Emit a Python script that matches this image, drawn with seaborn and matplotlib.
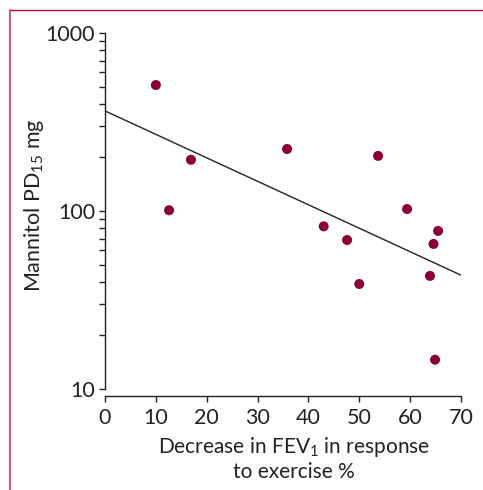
import matplotlib
matplotlib.use("Agg")
import matplotlib.pyplot as plt
import matplotlib.ticker as mticker
from matplotlib.lines import Line2D
import seaborn as sns
import pandas as pd
import numpy as np

# Data
fev1_decrease = [10.0, 12.6, 16.9, 35.8, 53.7, 43.0, 47.6, 50.0, 59.4, 65.5, 64.6, 63.9, 64.9]
mannitol_pd15 = [510, 101, 194, 223, 204, 82, 68.7, 38.9, 102.6, 77.3, 65.3, 43.2, 14.6]
fit_x = [0, 70]
fit_y = [365, 43.6]
x_ticks = [0, 10, 20, 30, 40, 50, 60, 70]
y_ticks = [10, 100, 1000]

sns.set_style("ticks")
plt.rcParams["font.family"] = ["Lato", "DejaVu Sans"]
plt.rcParams["mathtext.fontset"] = "custom"
plt.rcParams["mathtext.rm"] = "Lato"
plt.rcParams["mathtext.it"] = "Lato"

text_color = "#222222"
point_color = "#8a0036"

fig = plt.figure(figsize=(4.83, 4.90), dpi=100)
ax = fig.add_axes([105/483, 1 - 389/490, (461-105)/483, (389-33)/490])

df = pd.DataFrame({"x": fev1_decrease, "y": mannitol_pd15})
fit_df = pd.DataFrame({"x": fit_x, "y": fit_y})

sns.lineplot(data=fit_df, x="x", y="y", ax=ax, color="#222222", linewidth=1.0)
sns.scatterplot(data=df, x="x", y="y", ax=ax, color=point_color, s=52,
                edgecolor="none", zorder=3)

ax.set_yscale("log")
ax.set_xlim(0, 70)
ax.set_ylim(10, 1000)
ax.set_xticks(x_ticks)
ax.set_xticklabels([str(v) for v in x_ticks])
ax.yaxis.set_major_locator(mticker.FixedLocator(y_ticks))
ax.yaxis.set_major_formatter(mticker.FixedFormatter([str(v) for v in y_ticks]))
ax.yaxis.set_minor_locator(mticker.LogLocator(base=10, subs=np.arange(2, 10)))
ax.yaxis.set_minor_formatter(mticker.NullFormatter())

for side in ["top", "right"]:
    ax.spines[side].set_visible(False)
ax.spines["bottom"].set_position(("outward", 5))
for side in ["left", "bottom"]:
    ax.spines[side].set_color(text_color)
    ax.spines[side].set_linewidth(1.0)

ax.tick_params(axis="both", which="major", direction="out", length=4, width=1,
               color=text_color, labelcolor=text_color, labelsize=15.5)
ax.tick_params(axis="x", which="major", pad=5)
ax.tick_params(axis="y", which="major", pad=3)
ax.tick_params(axis="y", which="minor", direction="out", length=4, width=1,
               color=text_color)

ax.set_xlabel("Decrease in FEV$_{1}$ in response\nto exercise %", fontsize=15,
              color=text_color, linespacing=1.15)
ax.xaxis.set_label_coords(0.53, -0.13, transform=ax.transAxes)
ax.xaxis.label.set_va("top")
ax.set_ylabel("Mannitol PD$_{15}$ mg", fontsize=15.5, color=text_color)
ax.yaxis.set_label_coords(-0.165, 0.515, transform=ax.transAxes)

# Frame lines
fig.add_artist(Line2D([10/483, 1], [1 - 10/490, 1 - 10/490], transform=fig.transFigure,
                      color="#b5003f", linewidth=1.0))
fig.add_artist(Line2D([10/483, 10/483], [0, 1 - 10/490], transform=fig.transFigure,
                      color="#b8628a", linewidth=1.6))

fig.savefig("out.png", dpi=100)
